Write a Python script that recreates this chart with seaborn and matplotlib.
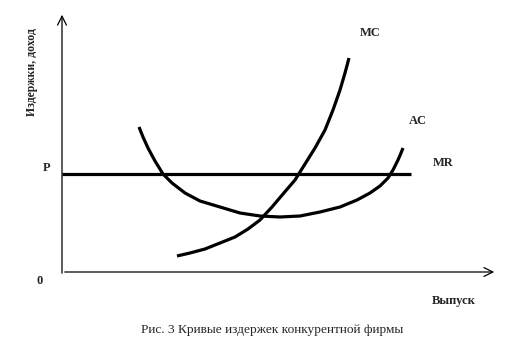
import matplotlib
matplotlib.use("Agg")
import matplotlib.pyplot as plt
import seaborn as sns
import pandas as pd

sns.set_theme(style="white")
plt.rcParams['font.family'] = ['Liberation Serif', 'DejaVu Serif']

# Data (output Q, cost) in chart units (origin at axes corner)
mc_q = [115, 128, 143, 158, 173, 186, 198, 210, 221, 233, 243, 253, 263, 271, 278, 283, 287]
mc_c = [16, 19, 23, 29, 35, 43, 52, 65, 78, 92, 108, 124, 142, 162, 182, 199, 214]

ac_q = [77, 81, 86, 93, 101, 110, 123, 138, 158, 178, 198, 218, 238, 258, 278, 295,
        308, 318, 326, 331, 336, 339, 341]
ac_c = [145, 135, 124, 111, 98, 89, 79, 71, 65, 59, 56, 55, 56, 60, 65, 72,
        79, 86, 94, 102, 112, 119, 124]

mr_q = [0, 349]
mr_c = [98, 98]

mc = pd.DataFrame({"Q": mc_q, "C": mc_c})
ac = pd.DataFrame({"Q": ac_q, "C": ac_c})
mr = pd.DataFrame({"Q": mr_q, "C": mr_c})

fig = plt.figure(figsize=(5.24, 3.62), dpi=100)
ax = fig.add_axes([0, 0, 1, 1])
ax.set_xlim(-62, 462)
ax.set_ylim(-90, 272)
ax.axis("off")

lw = 2.3
for df in (mc, ac):
    sns.lineplot(data=df, x="Q", y="C", ax=ax, color="black", lw=lw, sort=False,
                 solid_joinstyle="round", solid_capstyle="butt")
sns.lineplot(data=mr, x="Q", y="C", ax=ax, color="black", lw=lw, sort=False,
             solid_capstyle="butt")

# axes with open arrowheads
ax.annotate("", xy=(0, 260), xytext=(0, -4),
            arrowprops=dict(arrowstyle="->", lw=0.9, color="black", mutation_scale=16))
ax.annotate("", xy=(435, 0), xytext=(0, 0),
            arrowprops=dict(arrowstyle="->", lw=0.9, color="black", mutation_scale=16))

fs = 9
ax.text(-15, 98, "P", ha="center", va="bottom", fontsize=fs, fontweight="bold")
ax.text(-22, -9, "0", ha="center", va="center", fontsize=fs, fontweight="bold")
ax.text(308, 239, "MC", ha="center", va="center", fontsize=fs, fontweight="bold")
ax.text(356, 151, "AC", ha="center", va="center", fontsize=fs, fontweight="bold")
ax.text(381, 109, "MR", ha="center", va="center", fontsize=fs, fontweight="bold")
ax.text(392, -29, "Выпуск", ha="center", va="center", fontsize=fs, fontweight="bold")
ax.text(-30, 200, "Издержки, доход", ha="center", va="center", fontsize=8.5,
        fontweight="bold", rotation=90)
ax.text(210, -58, "Рис. 3 Кривые издержек конкурентной фирмы", ha="center",
        va="center", fontsize=9.6)

fig.savefig("out.png", dpi=100)
